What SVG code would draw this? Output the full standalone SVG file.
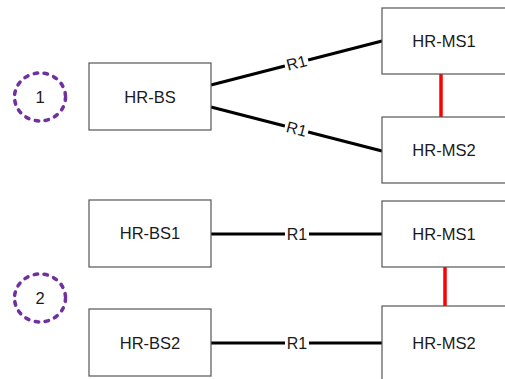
<svg xmlns="http://www.w3.org/2000/svg" width="505" height="379" viewBox="0 0 505 379">
  <style>
    .box { fill: #ffffff; stroke: #555555; stroke-width: 1.2; }
    .lbl { font-family: "Liberation Sans", Arial, sans-serif; font-size: 16.5px; fill: #1a1a1a; text-anchor: middle; dominant-baseline: central; }
    .link { stroke: #000000; stroke-width: 3; fill: none; }
    .tie { stroke: #ff0000; stroke-width: 3.5; fill: none; }
    .mark { fill: none; stroke: #7030a0; stroke-width: 3.5; stroke-dasharray: 3.5 6.5; stroke-linecap: round; }
    .rl { font-family: "Liberation Sans", Arial, sans-serif; font-size: 16px; fill: #1a1a1a; text-anchor: middle; dominant-baseline: central; }
  </style>
  <rect width="505" height="379" fill="#ffffff"/>

  <!-- connectors -->
  <g id="connectors">
    <line class="link" x1="211" y1="85" x2="382" y2="41"/>
    <line class="link" x1="211" y1="107" x2="382" y2="151"/>
    <line class="tie" x1="441" y1="74" x2="441" y2="117"/>
    <line class="link" x1="211" y1="234" x2="382" y2="234"/>
    <line class="link" x1="211" y1="343" x2="382" y2="343"/>
    <line class="tie" x1="445" y1="267" x2="445" y2="306"/>
    <!-- link labels with white backing -->
    <g transform="translate(296.5,63) rotate(-14.4)">
      <rect x="-12" y="-8" width="24" height="16" fill="#ffffff"/>
      <text class="rl" x="0" y="0">R1</text>
    </g>
    <g transform="translate(296.5,129) rotate(14.4)">
      <rect x="-12" y="-8" width="24" height="16" fill="#ffffff"/>
      <text class="rl" x="0" y="0">R1</text>
    </g>
    <rect x="285" y="226" width="24" height="16" fill="#ffffff"/>
    <text class="rl" x="297" y="234">R1</text>
    <rect x="285" y="335" width="24" height="16" fill="#ffffff"/>
    <text class="rl" x="297" y="343">R1</text>
  </g>

  <!-- scenario markers -->
  <g id="mark1">
    <ellipse class="mark" cx="40" cy="97" rx="25.5" ry="24"/>
    <text class="lbl" x="40" y="97">1</text>
  </g>
  <g id="mark2">
    <ellipse class="mark" cx="40" cy="298" rx="25.5" ry="24"/>
    <text class="lbl" x="40" y="298">2</text>
  </g>

  <!-- scenario 1 -->
  <g id="hr-bs">
    <rect class="box" x="89" y="63" width="122" height="67"/>
    <text class="lbl" x="150" y="97">HR-BS</text>
  </g>
  <g id="hr-ms1-a">
    <rect class="box" x="382" y="8" width="124" height="66"/>
    <text class="lbl" x="444" y="41">HR-MS1</text>
  </g>
  <g id="hr-ms2-a">
    <rect class="box" x="382" y="117" width="124" height="66"/>
    <text class="lbl" x="444" y="150">HR-MS2</text>
  </g>

  <!-- scenario 2 -->
  <g id="hr-bs1">
    <rect class="box" x="89" y="200" width="122" height="67"/>
    <text class="lbl" x="150" y="233">HR-BS1</text>
  </g>
  <g id="hr-bs2">
    <rect class="box" x="89" y="309" width="122" height="67"/>
    <text class="lbl" x="150" y="343">HR-BS2</text>
  </g>
  <g id="hr-ms1-b">
    <rect class="box" x="382" y="201" width="124" height="66"/>
    <text class="lbl" x="444" y="234">HR-MS1</text>
  </g>
  <g id="hr-ms2-b">
    <rect class="box" x="382" y="306" width="124" height="80"/>
    <text class="lbl" x="444" y="343">HR-MS2</text>
  </g>
</svg>
